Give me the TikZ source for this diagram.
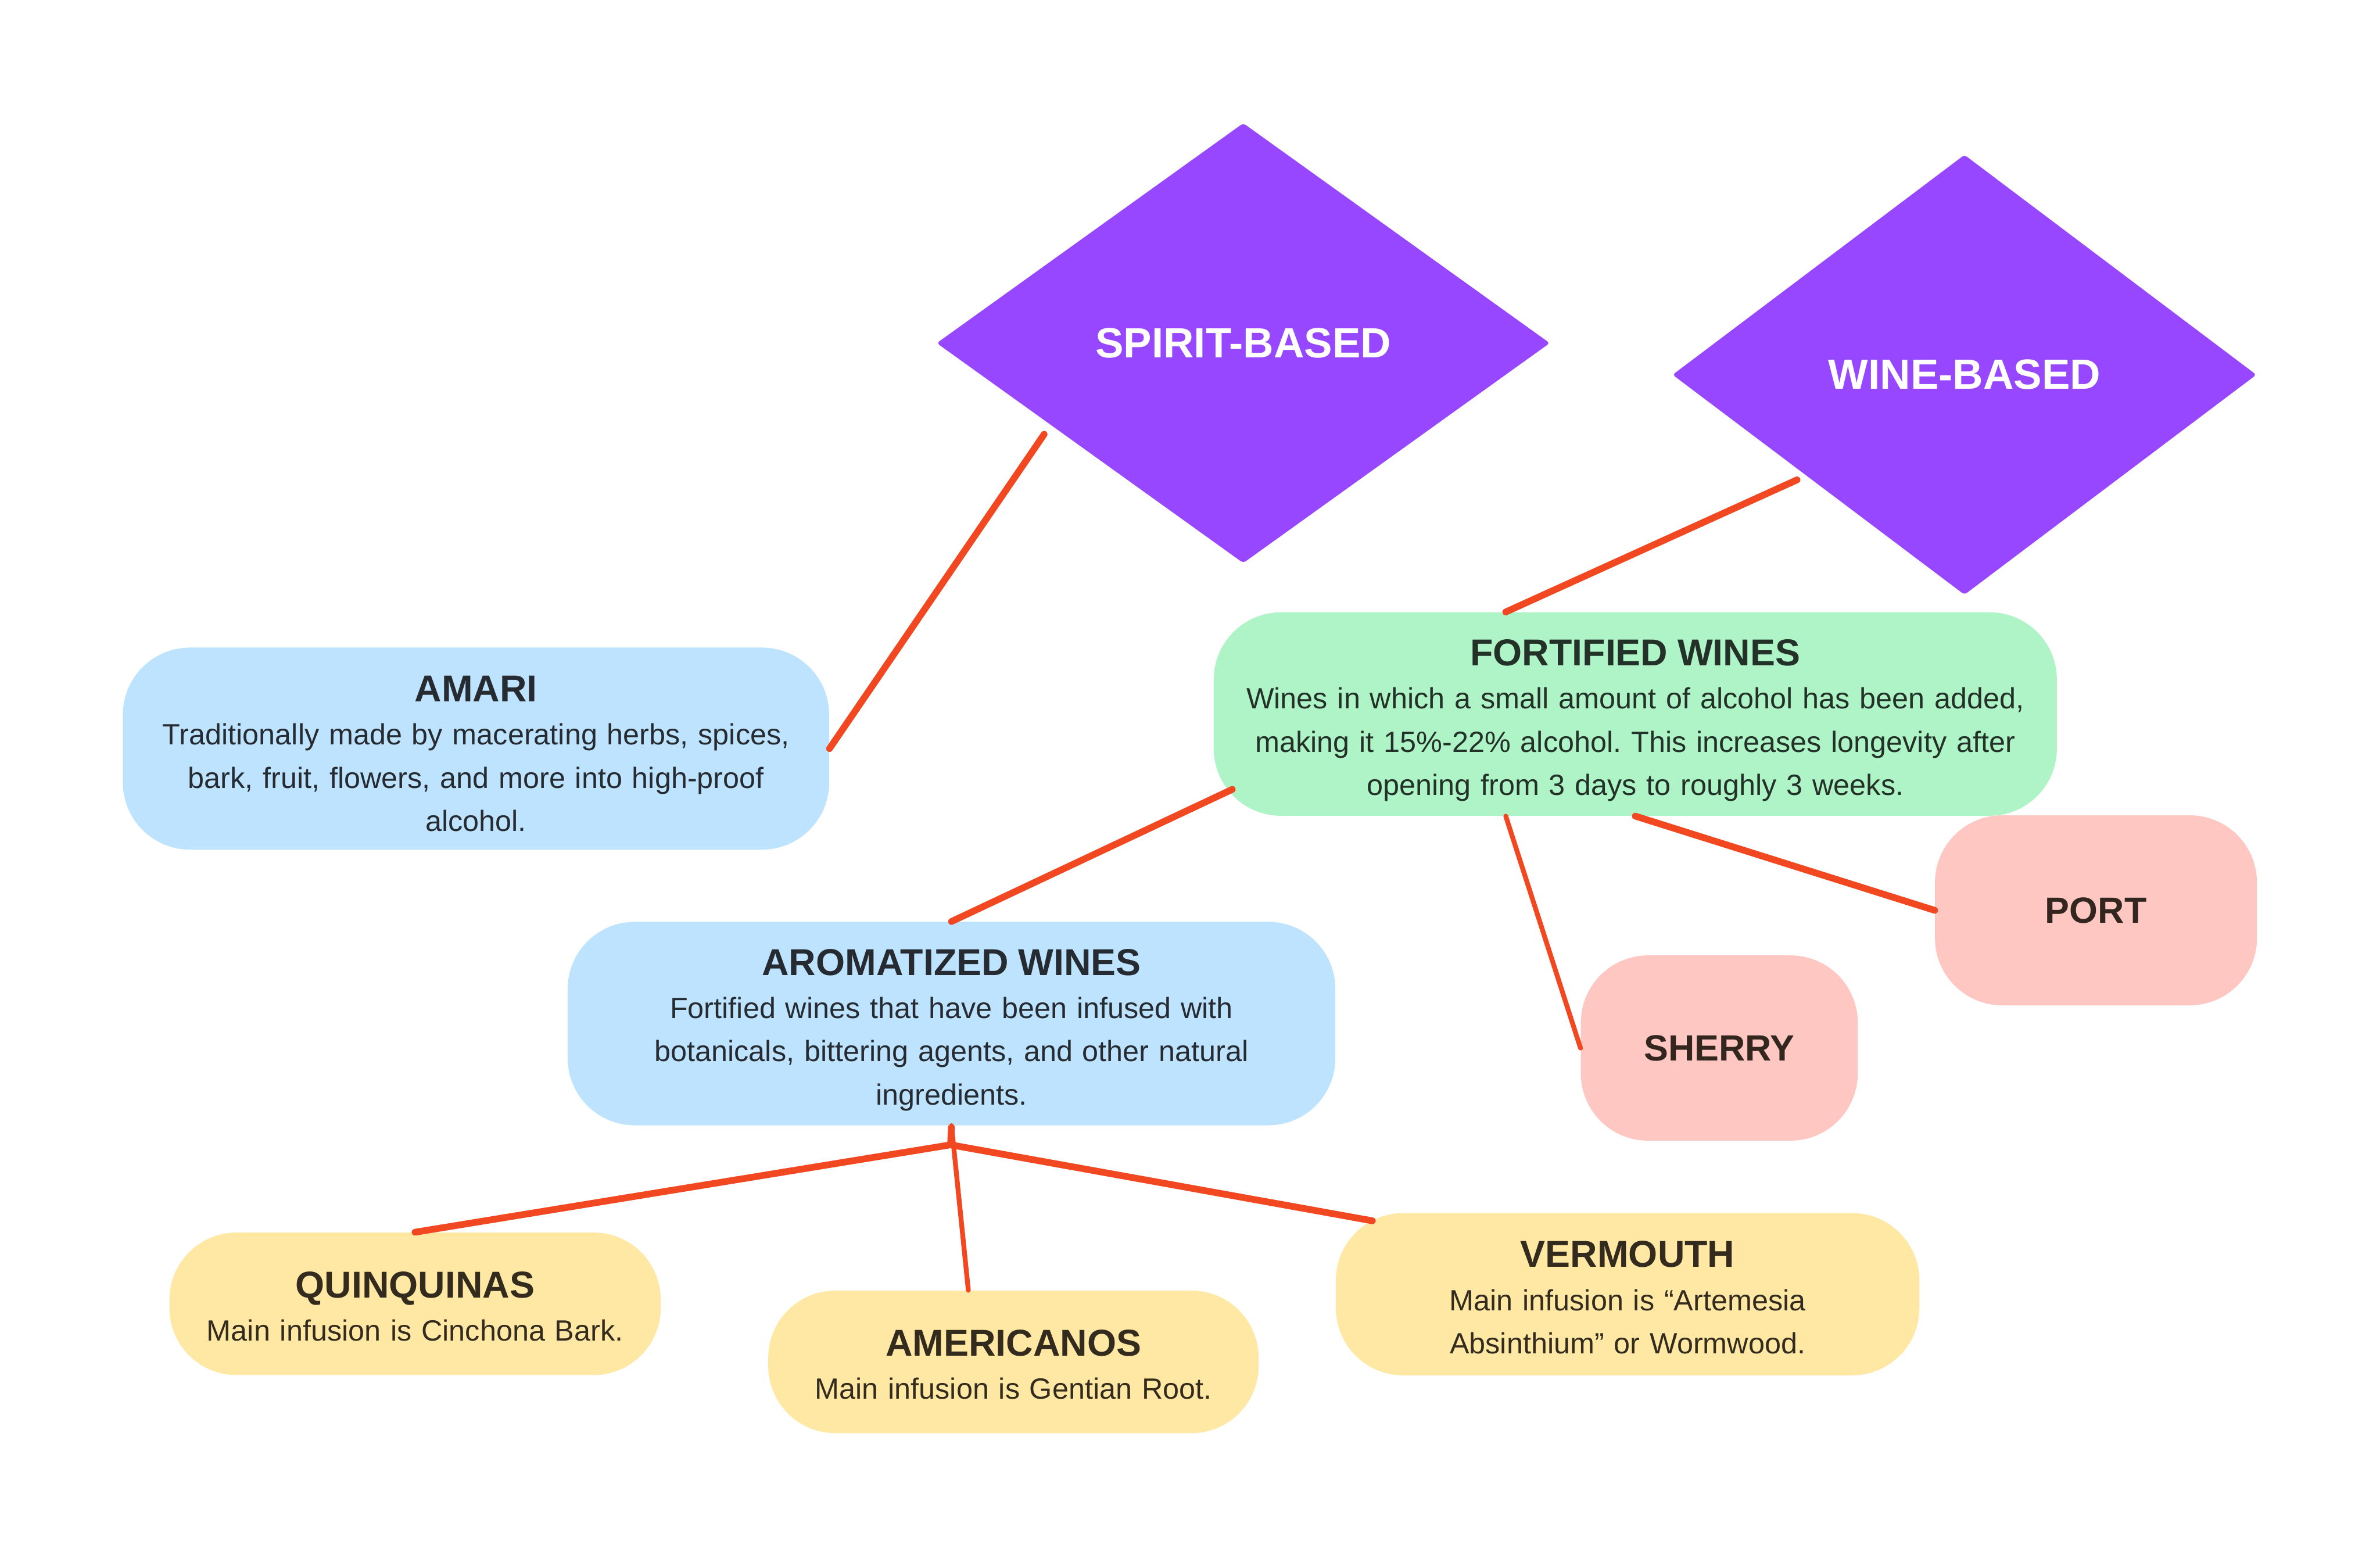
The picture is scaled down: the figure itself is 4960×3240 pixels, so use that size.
\documentclass[tikz,border=0pt]{standalone}
\usepackage{fontspec}
\setmainfont{Liberation Sans}
\usetikzlibrary{shapes.geometric,calc}
\newlength\upx
\setlength\upx{0.01cm}
\frenchspacing
\definecolor{cLine}{HTML}{F24822}
\definecolor{cViolet}{HTML}{9747FF}
\definecolor{cBlue}{HTML}{BDE3FF}
\definecolor{cGreen}{HTML}{AFF4C6}
\definecolor{cPink}{HTML}{FFC7C2}
\definecolor{cYellow}{HTML}{FFE8A3}
\definecolor{tBlue}{HTML}{262B31}
\definecolor{tGreen}{HTML}{233128}
\definecolor{tPink}{HTML}{33261F}
\definecolor{tYellow}{HTML}{332B1E}
\newcommand{\ttl}[2][66]{{\rule{0pt}{#1\upx}\fontsize{78\upx}{90\upx}\selectfont\bfseries #2}}
\begin{document}
\begin{tikzpicture}[x=0.01cm,y=-0.01cm,
  diam/.style={diamond, fill=cViolet, inner sep=0pt, rounded corners=6\upx,
    minimum width=#1, text=white, font=\fontsize{88\upx}{100\upx}\selectfont\bfseries},
  cbox/.style={rounded corners=140\upx, inner sep=0pt, align=center,
    font=\fontsize{61\upx}{90\upx}\selectfont},
  bluebox/.style={cbox, fill=cBlue, text=tBlue},
  greenbox/.style={cbox, fill=cGreen, text=tGreen},
  pinkbox/.style={rounded corners=140\upx, inner sep=0pt, fill=cPink, text=tPink,
    font=\fontsize{76\upx}{90\upx}\selectfont\bfseries},
  yellowbox/.style={cbox, fill=cYellow, text=tYellow},
  conn/.style={draw=cLine, line width=14\upx, line cap=round},
  connthin/.style={draw=cLine, line width=10\upx, line cap=round}]
\useasboundingbox[fill=white] (0,0) rectangle (4960,3240);

\node[diam=1278\upx, minimum height=917\upx] (spirit) at (2591,715) {SPIRIT-BASED};
\node[diam=1217\upx, minimum height=917\upx] (wine) at (4094,781) {WINE-BASED};

\node[bluebox, minimum width=1472\upx, minimum height=421\upx, text width=1472\upx] (amari) at (992,1560)
 {\ttl[75]{AMARI}\\Traditionally made by macerating herbs, spices,\\bark, fruit, flowers, and more into high-proof\\alcohol.};
\node[greenbox, minimum width=1757\upx, minimum height=424\upx, text width=1757\upx] (fort) at (3408,1488)
 {\ttl[81]{FORTIFIED WINES}\\Wines in which a small amount of alcohol has been added,\\making it 15\%-22\% alcohol. This increases longevity after\\opening from 3 days to roughly 3 weeks.};
\node[bluebox, minimum width=1600\upx, minimum height=424\upx, text width=1600\upx] (arom) at (1983,2133)
 {\ttl[81]{AROMATIZED WINES}\\Fortified wines that have been infused with\\botanicals, bittering agents, and other natural\\ingredients.};
\node[pinkbox, minimum width=577\upx, minimum height=386\upx] (sherry) at (3583,2184) {SHERRY};
\node[pinkbox, minimum width=671\upx, minimum height=396\upx] (port) at (4368,1897) {PORT};
\node[yellowbox, minimum width=1024\upx, minimum height=297\upx, text width=1024\upx] (quin) at (865,2717)
 {\ttl{QUINQUINAS}\\Main infusion is Cinchona Bark.};
\node[yellowbox, minimum width=1022\upx, minimum height=297\upx, text width=1022\upx] (amer) at (2112,2838)
 {\ttl{AMERICANOS}\\Main infusion is Gentian Root.};
\node[yellowbox, minimum width=1216\upx, minimum height=338\upx, text width=1216\upx] (verm) at (3392,2697)
 {\ttl[68]{VERMOUTH}\\Main infusion is “Artemesia\\Absinthium” or Wormwood.};

\coordinate (junc) at ($(arom.south)+(-2,40)$);

\draw[conn] ($(spirit.center)+(-415,190)$) -- (amari.east);
\draw[conn] ($(wine.center)+(-349,219)$) -- ($(fort.north)+(-270,0)$);
\draw[conn] ($(fort.center)+(-840,157)$) -- (arom.north);
\draw[connthin] ($(fort.south)+(-270,0)$) -- (sherry.west);
\draw[conn] (fort.south) -- (port.west);
\draw[conn, line cap=butt] (arom.south) -- (junc);
\draw[conn, line join=round] (quin.north) -- (junc) -- ($(verm.center)+(-532,-153)$);
\draw[connthin] (arom.south) -- ($(amer.north)+(-94,0)$);
\end{tikzpicture}
\end{document}
